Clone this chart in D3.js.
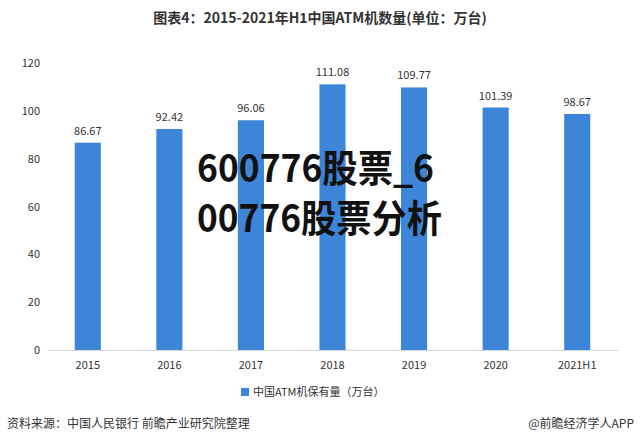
<!DOCTYPE html>
<html><head><meta charset="utf-8">
<script src="https://cdn.jsdelivr.net/npm/d3@7"></script>
<style>body{margin:0;background:#fff}svg{display:block}</style>
</head><body>
<svg id="c" width="640" height="444"></svg>
<script>
const categories = ["2015","2016","2017","2018","2019","2020","2021H1"];
const values = [86.67, 92.42, 96.06, 111.08, 109.77, 101.39, 98.67];
const yTicks = [0,20,40,60,80,100,120];

const svg = d3.select("#c");
const font = "'Microsoft YaHei','Noto Sans CJK SC',sans-serif";
const x = d3.scaleBand().domain(categories).range([47, 618]).paddingInner(0.68).paddingOuter(0.34);
const y = d3.scaleLinear().domain([0,120]).range([350, 63]);

svg.append("text").attr("x", 320).attr("y", 23).attr("text-anchor","middle")
  .attr("font-family", font).attr("font-weight","bold").attr("font-size",14).attr("fill","#333")
  .text("图表4：2015-2021年H1中国ATM机数量(单位：万台)");

const ya = svg.append("g").attr("transform","translate(40,0)")
  .call(d3.axisLeft(y).tickValues(yTicks).tickSize(0).tickPadding(0));
ya.select(".domain").remove();
ya.selectAll("text").attr("font-family", font).attr("font-size",11).attr("fill","#333");

const xa = svg.append("g").attr("transform","translate(0,350)")
  .call(d3.axisBottom(x).tickSize(0).tickPadding(11));
xa.select(".domain").attr("stroke","#d9d9d9");
xa.selectAll("text").attr("font-family", font).attr("font-size",11).attr("fill","#333");

svg.selectAll("rect.bar").data(values).join("rect").attr("class","bar")
  .attr("x",(d,i)=>x(categories[i])).attr("width",x.bandwidth())
  .attr("y",d=>y(d)).attr("height",d=>y(0)-y(d)).attr("fill","#3d85d9");

svg.selectAll("text.lbl").data(values).join("text").attr("class","lbl")
  .attr("x",(d,i)=>x(categories[i])+x.bandwidth()/2).attr("y",d=>y(d)-8)
  .attr("text-anchor","middle").attr("font-family",font).attr("font-size",11).attr("fill","#333")
  .text(d=>d.toFixed(2));

svg.append("rect").attr("x",241).attr("y",388).attr("width",8).attr("height",8).attr("fill","#3d85d9");
svg.append("text").attr("x",253).attr("y",396).attr("font-family",font).attr("font-size",11).attr("fill","#333")
  .text("中国ATM机保有量（万台）");

svg.append("text").attr("x",7).attr("y",428).attr("font-family",font).attr("font-size",12).attr("fill","#333")
  .text("资料来源：中国人民银行 前瞻产业研究院整理");
svg.append("text").attr("x",634).attr("y",428).attr("text-anchor","end").attr("font-family",font).attr("font-size",12).attr("fill","#333")
  .text("@前瞻经济学人APP");

const ov = svg.append("g").attr("font-family","'Noto Sans CJK SC',sans-serif").attr("font-weight","bold").attr("font-size",38).attr("fill","#111");
ov.append("text").attr("x",197).attr("y",182).attr("textLength",237).attr("lengthAdjust","spacingAndGlyphs").text("600776股票_6");
ov.append("text").attr("x",197).attr("y",232).attr("textLength",245).attr("lengthAdjust","spacingAndGlyphs").text("00776股票分析");
</script>
</body></html>
